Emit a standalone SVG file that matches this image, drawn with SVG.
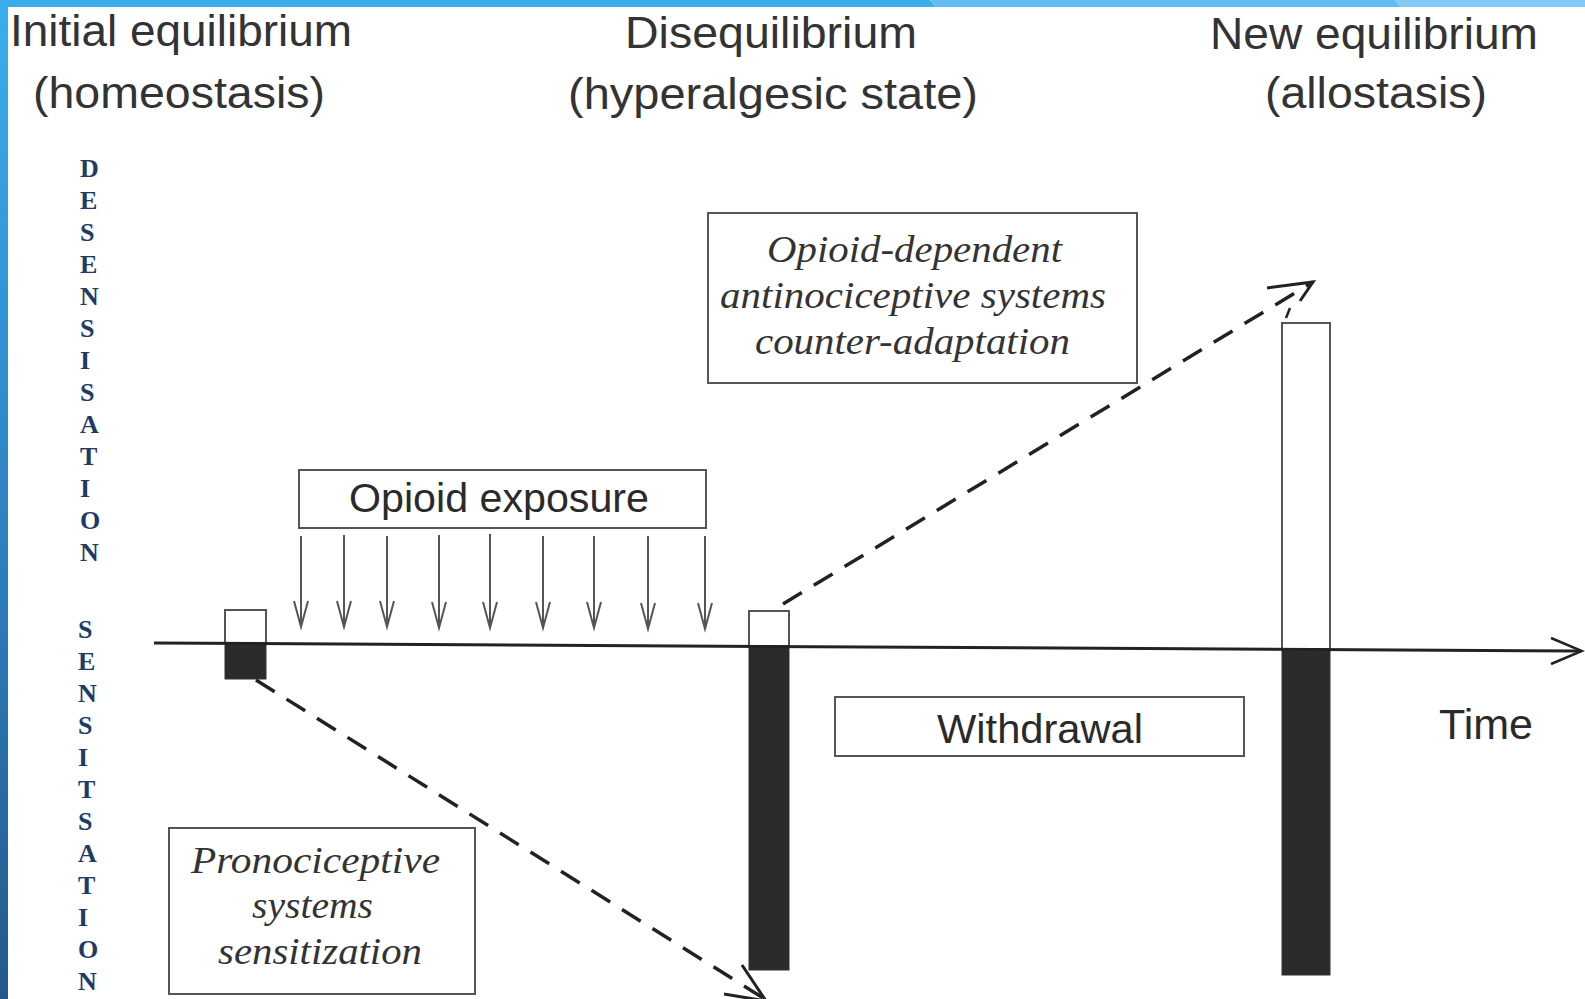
<svg xmlns="http://www.w3.org/2000/svg" width="1585" height="999" viewBox="0 0 1585 999">
<defs>
<linearGradient id="lbar" x1="0" y1="0" x2="0" y2="1">
<stop offset="0" stop-color="#3aaeec"/>
<stop offset="0.55" stop-color="#2e80c0"/>
<stop offset="1" stop-color="#235a8c"/>
</linearGradient>
</defs>
<style>
.title{font-family:"Liberation Sans",Arial,sans-serif;font-size:44px;fill:#333}
.lab{font-family:"Liberation Sans",Arial,sans-serif;font-size:41px;fill:#2a2a2a}
.ital{font-family:"Liberation Serif","Times New Roman",serif;font-style:italic;font-size:38px;fill:#333}
.vert{font-family:"Liberation Serif","Times New Roman",serif;font-weight:bold;font-size:26px;fill:#1e3a66}
.box{fill:#fff;stroke:#555;stroke-width:2}
.dark{fill:#2b2b2b;stroke:#333;stroke-width:1}
.dash{fill:none;stroke:#222;stroke-width:3.5;stroke-dasharray:22 14}
.down{fill:none;stroke:#555;stroke-width:2}
</style>
<rect width="1585" height="999" fill="#fff"/>
<g id="frame">
<polygon points="0,0 930,0 936,7 0,7" fill="#3aaeea"/>
<polygon points="930,0 1395,0 1401,7 936,7" fill="#63bcf0"/>
<polygon points="1395,0 1585,0 1585,7 1401,7" fill="#82c9f3"/>
<rect x="0" y="0" width="8" height="999" fill="url(#lbar)"/>
</g>
<g id="titles">
<text class="title" x="10" y="46" textLength="342" lengthAdjust="spacingAndGlyphs">Initial equilibrium</text>
<text class="title" x="33" y="108" textLength="292" lengthAdjust="spacingAndGlyphs">(homeostasis)</text>
<text class="title" x="625" y="48" textLength="292" lengthAdjust="spacingAndGlyphs">Disequilibrium</text>
<text class="title" x="568" y="109" textLength="410" lengthAdjust="spacingAndGlyphs">(hyperalgesic state)</text>
<text class="title" x="1210" y="49" textLength="328" lengthAdjust="spacingAndGlyphs">New equilibrium</text>
<text class="title" x="1265" y="108" textLength="222" lengthAdjust="spacingAndGlyphs">(allostasis)</text>
</g>
<g id="desensitisation">
<text class="vert" x="80" y="177">D</text>
<text class="vert" x="80" y="209">E</text>
<text class="vert" x="80" y="241">S</text>
<text class="vert" x="80" y="273">E</text>
<text class="vert" x="80" y="305">N</text>
<text class="vert" x="80" y="337">S</text>
<text class="vert" x="80" y="369">I</text>
<text class="vert" x="80" y="401">S</text>
<text class="vert" x="80" y="433">A</text>
<text class="vert" x="80" y="465">T</text>
<text class="vert" x="80" y="497">I</text>
<text class="vert" x="80" y="529">O</text>
<text class="vert" x="80" y="561">N</text>
</g>
<g id="sensitisation">
<text class="vert" x="78" y="638">S</text>
<text class="vert" x="78" y="670">E</text>
<text class="vert" x="78" y="702">N</text>
<text class="vert" x="78" y="734">S</text>
<text class="vert" x="78" y="766">I</text>
<text class="vert" x="78" y="798">T</text>
<text class="vert" x="78" y="830">S</text>
<text class="vert" x="78" y="862">A</text>
<text class="vert" x="78" y="894">T</text>
<text class="vert" x="78" y="926">I</text>
<text class="vert" x="78" y="958">O</text>
<text class="vert" x="78" y="990">N</text>
</g>
<g id="bar-initial">
<rect class="box" x="225" y="610" width="41" height="33"/>
<rect class="dark" x="225" y="643" width="41" height="36"/>
</g>
<g id="bar-diseq">
<rect class="box" x="749" y="611" width="40" height="35"/>
<rect class="dark" x="749" y="647" width="40" height="323"/>
</g>
<g id="bar-new">
<rect class="box" x="1282" y="323" width="48" height="326"/>
<rect class="dark" x="1282" y="650" width="48" height="325"/>
</g>
<g id="opioid-exposure">
<rect class="box" x="299" y="470" width="407" height="58"/>
<text class="lab" x="349" y="512" textLength="300" lengthAdjust="spacingAndGlyphs">Opioid exposure</text>
</g>
<g id="opioid-dependent">
<rect class="box" x="708" y="213" width="429" height="170"/>
<text class="ital" x="767" y="262" textLength="295" lengthAdjust="spacingAndGlyphs">Opioid-dependent</text>
<text class="ital" x="720" y="308" textLength="386" lengthAdjust="spacingAndGlyphs">antinociceptive systems</text>
<text class="ital" x="755" y="354" textLength="315" lengthAdjust="spacingAndGlyphs">counter-adaptation</text>
</g>
<g id="withdrawal">
<rect class="box" x="835" y="697" width="409" height="59"/>
<text class="lab" x="937" y="743" textLength="206" lengthAdjust="spacingAndGlyphs">Withdrawal</text>
</g>
<g id="pronociceptive">
<rect class="box" x="169" y="828" width="306" height="166"/>
<text class="ital" x="191" y="873" textLength="249" lengthAdjust="spacingAndGlyphs">Pronociceptive</text>
<text class="ital" x="252" y="918" textLength="121" lengthAdjust="spacingAndGlyphs">systems</text>
<text class="ital" x="218" y="964" textLength="204" lengthAdjust="spacingAndGlyphs">sensitization</text>
</g>
<g id="time-label">
<text class="lab" x="1439" y="739" style="font-size:42px" textLength="94" lengthAdjust="spacingAndGlyphs">Time</text>
</g>
<g id="connectors">
<line x1="154" y1="643" x2="1581" y2="651" stroke="#222" stroke-width="3"/>
<path d="M1551,638 L1582,651 L1551,664" fill="none" stroke="#222" stroke-width="2.5"/>
<g class="down">
<path d="M301,536 V627 M294,601 L301,627 L308,601"/>
<path d="M344,535 V627 M337,601 L344,627 L351,601"/>
<path d="M387,536 V627 M380,601 L387,627 L394,601"/>
<path d="M439,535 V628 M432,602 L439,628 L446,602"/>
<path d="M490,534 V628 M483,602 L490,628 L497,602"/>
<path d="M543,536 V628 M536,602 L543,628 L550,602"/>
<path d="M594,536 V628 M587,602 L594,628 L601,602"/>
<path d="M648,536 V629 M641,603 L648,629 L655,603"/>
<path d="M705,536 V629 M698,603 L705,629 L712,603"/>
</g>
<path class="dash" d="M256,680 L768,1001"/>
<path d="M742,965 L766,1001 L724,994" fill="none" stroke="#222" stroke-width="3"/>
<path class="dash" d="M783,604 L1313,282"/>
<path d="M1267,288 L1313,282 L1300,301" fill="none" stroke="#222" stroke-width="3"/>
<path d="M1286,318 L1290,308" fill="none" stroke="#222" stroke-width="2.5"/>
</g>
</svg>
